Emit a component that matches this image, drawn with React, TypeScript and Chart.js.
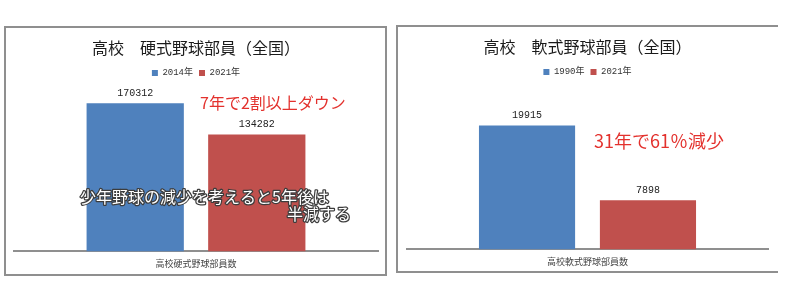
import React, { useEffect, useRef } from "react";
import { Chart, registerables } from "chart.js";

Chart.register(...registerables);

// ---- data ----
const hardTitle = "高校　硬式野球部員（全国）";
const hardCategories = ["高校硬式野球部員数"];
const hardSeriesLabels = ["2014年", "2021年"];
const hardValues = [170312, 134282];
const hardNote = "7年で2割以上ダウン";
const hardCaption = ["少年野球の減少を考えると5年後は", "半減する"];

const softTitle = "高校　軟式野球部員（全国）";
const softCategories = ["高校軟式野球部員数"];
const softSeriesLabels = ["1990年", "2021年"];
const softValues = [19915, 7898];
const softNote = "31年で61％減少";

const seriesColors = ["#4f81bd", "#c0504d"];

const JP = '"Noto Sans CJK JP", "Noto Sans", sans-serif';
const MONO = '"Liberation Mono", "Noto Sans CJK JP", monospace';

type Note = { text: string; x: number; y: number; size: number; color: string; outline?: boolean };

const valueLabelPlugin = {
  id: "valueLabels",
  afterDatasetsDraw(chart: any) {
    const ctx = chart.ctx;
    ctx.save();
    ctx.font = `10px ${MONO}`;
    ctx.fillStyle = "#222";
    ctx.textAlign = "center";
    ctx.textBaseline = "middle";
    chart.data.datasets.forEach((ds: any, i: number) => {
      const meta = chart.getDatasetMeta(i);
      meta.data.forEach((el: any, j: number) => {
        ctx.fillText(String(ds.data[j]), el.x, el.y - 10);
      });
    });
    ctx.restore();
  },
};

const notesPlugin = {
  id: "notes",
  afterDraw(chart: any, _args: any, opts: any) {
    const ctx = chart.ctx;
    const items: Note[] = (opts && opts.items) || [];
    ctx.save();
    ctx.textAlign = "left";
    ctx.textBaseline = "middle";
    items.forEach((n) => {
      ctx.font = `${n.size}px ${JP}`;
      if (n.outline) {
        ctx.lineJoin = "round";
        ctx.lineWidth = 2.5;
        ctx.strokeStyle = "#3c3c3c";
        ctx.strokeText(n.text, n.x, n.y);
        ctx.fillStyle = "#ffffff";
        ctx.fillText(n.text, n.x, n.y);
      } else {
        ctx.fillStyle = n.color;
        ctx.fillText(n.text, n.x, n.y);
      }
    });
    ctx.restore();
  },
};

type PanelProps = {
  width: number;
  height: number;
  title: string;
  categories: string[];
  seriesLabels: string[];
  values: number[];
  yMax: number;
  pad: { left: number; right: number; top: number; bottom: number };
  catPct: number;
  barPct: number;
  notes: Note[];
};

function Panel(p: PanelProps) {
  const ref = useRef<HTMLCanvasElement | null>(null);
  useEffect(() => {
    if (!ref.current) return;
    const chart = new Chart(ref.current, {
      type: "bar",
      data: {
        labels: p.categories,
        datasets: p.seriesLabels.map((lab, i) => ({
          label: lab,
          data: [p.values[i]],
          backgroundColor: seriesColors[i],
          borderWidth: 0,
          categoryPercentage: p.catPct,
          barPercentage: p.barPct,
        })),
      },
      options: {
        animation: false,
        responsive: false,
        maintainAspectRatio: false,
        devicePixelRatio: 1,
        layout: { padding: p.pad },
        plugins: {
          title: {
            display: true,
            text: p.title,
            color: "#1a1a1a",
            font: { size: 16, family: JP, weight: "normal" as any },
            padding: { top: 10, bottom: 5.3 },
          },
          legend: {
            display: true,
            position: "top",
            labels: {
              boxWidth: 6,
              boxHeight: 6,
              padding: 6,
              color: "#333",
              font: { size: 9, family: MONO },
            },
          },
          tooltip: { enabled: false },
          notes: { items: p.notes },
        } as any,
        scales: {
          x: {
            type: "category",
            grid: { display: false, drawTicks: false },
            border: { display: true, color: "#8f8f8f", width: 2 },
            ticks: { padding: 6.6, color: "#444", font: { size: 9, family: JP } },
          },
          y: {
            display: false,
            min: 0,
            max: p.yMax,
          },
        },
      },
      plugins: [valueLabelPlugin, notesPlugin],
    });
    return () => chart.destroy();
  }, []);
  return (
    <canvas
      ref={ref}
      width={p.width}
      height={p.height}
      style={{ position: "absolute", left: 0, top: 0, width: p.width, height: p.height }}
    />
  );
}

export default function App() {
  return (
    <div
      style={{
        position: "absolute",
        left: 0,
        top: 0,
        width: 800,
        height: 300,
        background: "#fff",
        overflow: "hidden",
      }}
    >
      <div
        style={{
          position: "absolute",
          left: 4,
          top: 26,
          width: 383,
          height: 250,
          boxSizing: "border-box",
          border: "2px solid #8f8f8f",
        }}
      >
        <Panel
          width={379}
          height={246}
          title={hardTitle}
          categories={hardCategories}
          seriesLabels={hardSeriesLabels}
          values={hardValues}
          yMax={188400}
          pad={{ left: 8, right: 7, top: 0, bottom: -1.4 }}
          catPct={0.668}
          barPct={0.8}
          notes={[
            { text: hardNote, x: 194, y: 75, size: 16, color: "#e3312d" },
            { text: hardCaption[0], x: 74, y: 169, size: 16, color: "#fff", outline: true },
            { text: hardCaption[1], x: 281, y: 186, size: 16, color: "#fff", outline: true },
          ]}
        />
      </div>
      <div
        style={{
          position: "absolute",
          left: 396,
          top: 25,
          width: 382,
          height: 248,
          boxSizing: "border-box",
          borderLeft: "2px solid #8f8f8f",
          borderTop: "2px solid #8f8f8f",
          borderBottom: "2px solid #8f8f8f",
        }}
      >
        <Panel
          width={380}
          height={244}
          title={softTitle}
          categories={softCategories}
          seriesLabels={softSeriesLabels}
          values={softValues}
          yMax={26200}
          pad={{ left: 9, right: 10, top: 0, bottom: -2.4 }}
          catPct={0.67}
          barPct={0.795}
          notes={[{ text: softNote, x: 196, y: 114, size: 18, color: "#e3312d" }]}
        />
      </div>
    </div>
  );
}
